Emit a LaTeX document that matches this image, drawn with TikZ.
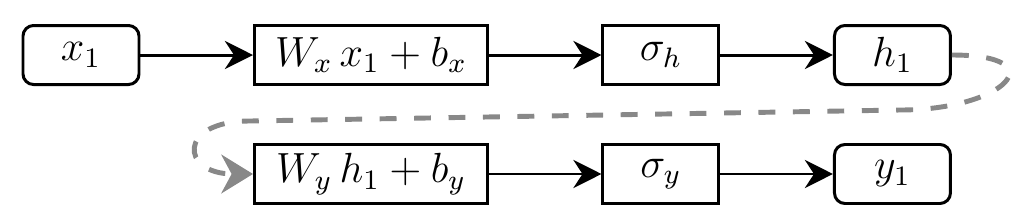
\documentclass[tikz,border=0pt]{standalone}
\usetikzlibrary{arrows.meta, positioning}
\definecolor{cgrey}{HTML}{888888}
\tikzset{
  every picture/.style={line width=0.85pt, font=\large},
  box/.style={draw, rectangle, minimum width=#1, minimum height=0.59cm, inner sep=2pt},
  box/.default=1.16cm,
  io/.style={box, rounded corners=3pt},
  arrow/.style={-{Stealth[length=8pt, width=8pt]}},
  loopback/.style={-{Stealth[length=9pt, width=11pt]}, draw=cgrey, line width=1.4pt, dash pattern=on 4.8pt off 5pt},
}
\begin{document}
\begin{tikzpicture}
  \useasboundingbox (-0.81,0.55) rectangle (9.49,-1.61);
  % hidden layer
  \node[io] (x1) {$x_1$};
  \node[box=2.33cm, right=1.125cm of x1] (wx) {$W_x\,x_1 + b_x$};
  \node[box, right=1.125cm of wx] (sh) {$\sigma_h$};
  \node[io, right=1.125cm of sh] (h1) {$h_1$};
  % output layer
  \node[box=2.33cm, below=0.57cm of wx] (wy) {$W_y\,h_1 + b_y$};
  \node[box, right=1.125cm of wy] (sy) {$\sigma_y$};
  \node[io, right=1.125cm of sy] (y1) {$y_1$};
  \draw[arrow] (x1) -- (wx);
  \draw[arrow] (wx) -- (sh);
  \draw[arrow] (sh) -- (h1);
  \draw[arrow] (wy) -- (sy);
  \draw[arrow] (sy) -- (y1);
  % h1 fed into the output layer
  \coordinate (turnR) at (8.19,-0.55);
  \coordinate (turnL) at (1.69,-0.66);
  \draw[loopback] (h1.east) .. controls +(1.05,0) and +(1.05,0) .. (turnR) -- (turnL)
    .. controls +(-0.73,0) and +(-0.73,0) .. (wy.west);
\end{tikzpicture}
\end{document}
